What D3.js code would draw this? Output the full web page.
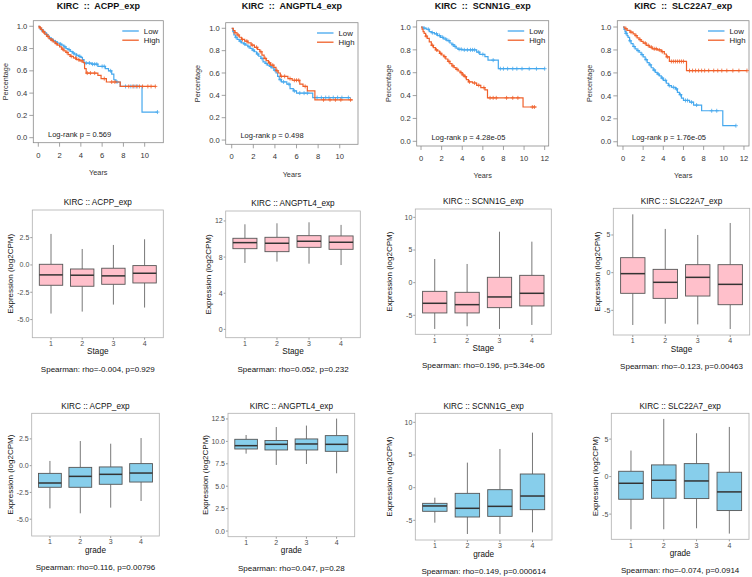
<!DOCTYPE html>
<html><head><meta charset="utf-8">
<script src="https://cdn.jsdelivr.net/npm/d3@7"></script>
<style>body{margin:0;background:#fff}svg{display:block}text{font-family:"Liberation Sans",Arial,Helvetica,sans-serif}</style>
</head><body><script>
// ---------------- DATA ----------------
const cohort = "KIRC";
const genes = ["ACPP_exp","ANGPTL4_exp","SCNN1G_exp","SLC22A7_exp"];
const logrankP = ["0.569","0.498","4.28e-05","1.76e-05"];
const kmLegend = ["Low","High"];

// Kaplan-Meier steps [time, survival], end time, censor times
const acppLow = [[0,1],[0.1,0.99],[0.2,0.98],[0.3,0.97],[0.45,0.955],[0.6,0.94],[0.75,0.925],[0.9,0.91],[1.05,0.895],[1.2,0.885],[1.4,0.87],[1.6,0.86],[1.8,0.85],[2.0,0.84],[2.2,0.83],[2.4,0.815],[2.6,0.8],[2.8,0.79],[3.0,0.775],[3.2,0.76],[3.4,0.75],[3.6,0.74],[3.8,0.73],[4.0,0.72],[4.15,0.7],[4.3,0.67],[5.0,0.66],[5.6,0.64],[6.3,0.62],[6.6,0.6],[6.9,0.57],[7.1,0.52],[7.3,0.5],[7.7,0.46],[9.75,0.23]];
const acppLowEnd = 11.2;
const acppLowCens = [0.3,0.8,1.2,1.6,2.1,2.5,2.9,3.3,3.6,3.9,4.5,4.8,5.1,5.3,5.5,6.0,6.2,6.8,7.4,8.2,8.7,9.0,9.3,11.2];
const acppHigh = [[0,1],[0.1,0.985],[0.25,0.97],[0.4,0.95],[0.6,0.93],[0.8,0.91],[1.0,0.89],[1.2,0.875],[1.4,0.86],[1.6,0.845],[1.8,0.83],[2.0,0.815],[2.2,0.795],[2.4,0.78],[2.6,0.765],[2.8,0.745],[3.0,0.73],[3.3,0.715],[3.6,0.7],[3.9,0.69],[4.2,0.675],[4.35,0.62],[4.5,0.58],[5.6,0.56],[5.9,0.53],[6.4,0.5],[7.7,0.46]];
const acppHighEnd = 11.0;
const acppHighCens = [0.2,0.5,0.9,1.3,1.7,2.3,2.7,3.1,3.5,3.8,4.1,4.6,4.9,5.3,6.2,6.9,7.2,8.5,8.9,9.2,9.5,9.8,10.3,10.6,11.0];

const angLow = [[0,1],[0.1,0.97],[0.2,0.94],[0.35,0.92],[0.5,0.9],[0.7,0.885],[0.9,0.87],[1.1,0.86],[1.3,0.85],[1.5,0.835],[1.7,0.82],[1.9,0.805],[2.1,0.79],[2.3,0.77],[2.5,0.75],[2.7,0.73],[2.9,0.7],[3.1,0.685],[3.3,0.67],[3.5,0.66],[3.7,0.645],[3.9,0.625],[4.1,0.6],[4.25,0.57],[4.4,0.54],[4.6,0.52],[5.1,0.5],[5.4,0.46],[5.7,0.44],[6.0,0.42],[7.5,0.38]];
const angLowEnd = 11.0;
const angLowCens = [0.4,0.8,1.2,1.6,2.0,2.4,2.8,3.2,3.6,4.0,4.5,4.8,5.3,5.8,6.3,6.7,7.0,7.9,8.3,8.7,9.0,9.4,9.8,10.2,10.8];
const angHigh = [[0,1],[0.15,0.98],[0.3,0.96],[0.5,0.94],[0.7,0.92],[0.9,0.9],[1.2,0.885],[1.5,0.87],[1.8,0.85],[2.1,0.83],[2.4,0.81],[2.6,0.79],[2.8,0.76],[3.0,0.73],[3.2,0.71],[3.4,0.69],[3.6,0.67],[3.9,0.65],[4.1,0.62],[4.3,0.6],[4.5,0.57],[5.2,0.55],[5.6,0.535],[6.3,0.5],[6.6,0.48],[7.0,0.44],[7.7,0.36]];
const angHighEnd = 11.2;
const angHighCens = [0.3,0.6,1.0,1.4,1.9,2.3,2.7,3.1,3.5,3.8,4.2,4.6,4.9,5.4,5.8,6.0,6.2,6.8,8.5,9.1,9.6,10.1,11.0];

const scnLow = [[0,1],[0.2,0.99],[0.5,0.98],[0.8,0.96],[1.0,0.95],[1.3,0.94],[1.6,0.925],[1.9,0.91],[2.2,0.895],[2.5,0.88],[2.8,0.86],[3.0,0.845],[3.2,0.83],[3.4,0.815],[3.6,0.805],[4.0,0.8],[5.4,0.78],[5.7,0.76],[6.2,0.74],[6.5,0.71],[7.5,0.635]];
const scnLowEnd = 12.0;
const scnLowCens = [0.3,0.7,1.1,1.5,1.8,2.1,2.4,2.7,3.1,3.3,3.7,3.9,4.2,4.5,4.8,5.0,5.2,5.6,6.0,7.0,7.7,8.0,8.4,8.9,9.3,9.8,10.5,11.2,12.0];
const scnHigh = [[0,1],[0.1,0.98],[0.2,0.96],[0.3,0.945],[0.45,0.92],[0.6,0.9],[0.8,0.87],[1.0,0.84],[1.2,0.82],[1.4,0.8],[1.6,0.79],[1.8,0.77],[2.0,0.755],[2.2,0.74],[2.4,0.72],[2.6,0.7],[2.8,0.68],[3.0,0.66],[3.2,0.645],[3.4,0.63],[3.6,0.615],[3.8,0.6],[4.0,0.58],[4.2,0.565],[4.4,0.54],[4.6,0.52],[5.0,0.51],[5.4,0.49],[5.8,0.47],[6.2,0.45],[6.45,0.38],[9.9,0.3]];
const scnHighEnd = 11.2;
const scnHighCens = [0.5,1.1,1.5,1.9,2.3,2.7,3.1,3.5,3.9,4.1,4.3,4.7,5.2,5.6,6.1,6.7,7.0,7.3,8.3,8.9,9.4,10.8,11.0];

const slcLow = [[0,1],[0.1,0.98],[0.2,0.96],[0.3,0.945],[0.4,0.925],[0.5,0.91],[0.65,0.88],[0.8,0.855],[1.0,0.83],[1.2,0.81],[1.4,0.795],[1.6,0.78],[1.8,0.76],[2.0,0.74],[2.2,0.715],[2.4,0.69],[2.6,0.67],[2.8,0.645],[3.0,0.625],[3.2,0.605],[3.4,0.59],[3.6,0.575],[3.8,0.555],[4.0,0.535],[4.3,0.51],[4.5,0.49],[4.8,0.475],[5.2,0.46],[5.4,0.43],[5.6,0.41],[5.8,0.38],[6.0,0.36],[6.6,0.345],[7.0,0.32],[7.8,0.27],[9.9,0.14]];
const slcLowEnd = 11.2;
const slcLowCens = [0.3,0.7,1.1,1.5,1.9,2.3,2.7,3.1,3.5,3.9,4.2,4.6,5.0,5.3,5.7,6.2,6.4,6.8,7.3,8.8,9.3,11.2];
const slcHigh = [[0,1],[0.2,0.985],[0.4,0.97],[0.7,0.955],[1.0,0.94],[1.2,0.925],[1.4,0.905],[1.6,0.89],[1.8,0.875],[2.0,0.86],[2.3,0.84],[2.6,0.825],[2.9,0.81],[3.4,0.8],[3.8,0.785],[4.1,0.765],[4.3,0.74],[4.6,0.7],[6.3,0.62]];
const slcHighEnd = 12.3;
const slcHighCens = [0.3,0.8,1.3,1.7,2.2,2.5,2.8,3.1,3.3,3.6,3.9,4.4,4.8,5.0,5.2,5.4,5.6,5.8,6.0,6.6,6.9,7.2,7.5,7.8,8.1,8.5,9.0,9.4,9.8,10.3,10.9,11.5,12.3];

const kmXTicks = [[0,2,4,6,8,10],[0,2,4,6,8,10],[0,2,4,6,8,10,12],[0,2,4,6,8,10,12]];
const kmYTicks = [0,0.2,0.4,0.6,0.8,1.0];

// Boxplot stats: [lower whisker, Q1, median, Q3, upper whisker]
const groups = ["1","2","3","4"];
const acppStage   = [[-4.45,-1.86,-0.91,0.06,2.84],[-4.27,-1.95,-0.94,-0.37,1.46],[-3.63,-1.77,-1.0,-0.3,1.83],[-3.9,-1.65,-0.76,-0.06,2.35]];
const angStage    = [[7.35,8.93,9.6,10.08,11.63],[7.5,8.6,9.53,10.19,11.74],[7.27,9.08,9.75,10.37,11.85],[7.12,8.86,9.64,10.34,11.56]];
const scnStage    = [[-7.09,-4.64,-3.16,-1.33,3.62],[-6.68,-4.64,-3.37,-1.48,2.86],[-7.09,-3.83,-2.19,0.82,7.8],[-6.48,-3.57,-1.63,1.12,6.28]];
const slcStage    = [[-6.94,-2.74,-0.13,1.99,7.74],[-6.77,-3.41,-1.28,0.44,5.8],[-6.86,-3.1,-0.62,1.06,5.0],[-7.48,-4.25,-1.55,1.06,6.59]];
const acppGrade   = [[-3.99,-2.02,-1.62,-0.72,0.44],[-4.45,-2.02,-1.0,-0.16,2.3],[-3.92,-1.74,-0.81,-0.12,2.05],[-3.3,-1.53,-0.69,0.19,2.58]];
const angGrade    = [[8.63,9.15,9.52,10.23,10.71],[7.37,9.04,9.67,10.1,11.6],[7.48,9.04,9.71,10.27,11.76],[6.44,8.89,9.67,10.64,12.54]];
const scnGrade    = [[-5.36,-3.62,-2.8,-2.4,-1.53],[-7.09,-4.49,-3.16,-0.87,3.83],[-7.09,-4.39,-2.86,-0.31,5.92],[-6.84,-3.37,-1.28,2.09,8.42]];
const slcGrade    = [[-7.02,-3.02,-0.89,0.71,3.47],[-7.02,-2.89,-0.49,1.56,7.69],[-6.89,-2.93,-0.58,1.73,5.78],[-7.6,-4.53,-2.04,0.58,6.62]];
const stageSpearman = ["rho=-0.004, p=0.929","rho=0.052, p=0.232","rho=0.196, p=5.34e-06","rho=-0.123, p=0.00463"];
const gradeSpearman = ["rho=0.116, p=0.00796","rho=0.047, p=0.28","rho=0.149, p=0.000614","rho=-0.074, p=0.0914"];
const stageYTicks = [[-5,-2.5,0,2.5],[0,4,8,12],[-5,0,5,10],[-5,0,5]];
const gradeYTicks = [[-5,-2.5,0,2.5],[0,2.5,5,7.5,10,12.5],[-5,0,5,10],[-5,0,5]];
const stageYDomain = [[-6.66,5.03],[-0.92,13.1],[-7.91,11.28],[-8.27,8.54]];
const gradeYDomain = [[-6.57,4.89],[-0.63,13.13],[-8.01,11.38],[-8.36,8.44]];

// ---------------- LAYOUT ----------------
const kmLayout = [
  {l:33.3,r:163.3,t:20.7,b:142.7,xd:[-0.47,11.75],yd:[-0.045,1.05]},
  {l:225.7,r:358,t:22.7,b:144.3,xd:[-0.556,11.69],yd:[-0.038,1.05]},
  {l:416.7,r:548.7,t:20.7,b:146,xd:[-0.42,12.39],yd:[-0.041,1.055]},
  {l:617.3,r:749,t:20.7,b:146,xd:[-0.565,12.5],yd:[-0.037,1.055]}
];
const stageLayout = [
  {l:32.3,r:163.3,t:210,b:337.7,ylab:-22.3},
  {l:225.7,r:360.3,t:211,b:337.7,ylab:-17},
  {l:415.3,r:551.3,t:209,b:334.3,ylab:-26},
  {l:613.3,r:749.7,t:208.3,b:335,ylab:-16}
];
const gradeLayout = [
  {l:31.7,r:159.3,t:413.3,b:536,ylab:-21.7},
  {l:228,r:354.7,t:413.3,b:536.7,ylab:-22.7},
  {l:415.3,r:552,t:413.3,b:540,ylab:-26},
  {l:611.3,r:749,t:413.3,b:539.3,ylab:-15.6}
];
const colLow = "#45a8ee", colHigh = "#f0602a";

const svg = d3.select("body").append("svg").attr("width",752).attr("height",577);

function txt(g,x,y,s,size,opts={}){
  const t=g.append("text").attr("x",x).attr("y",y).attr("dy","0.35em").attr("font-size",size)
    .attr("text-anchor",opts.anchor||"middle").attr("fill",opts.fill||"#1a1a1a").text(s);
  if(opts.bold) t.attr("font-weight","bold");
  if(opts.rotate) t.attr("transform",`rotate(-90,${x},${y})`);
  return t;
}

function drawKM(i, curves){
  const L=kmLayout[i], g=svg.append("g");
  const x=d3.scaleLinear().domain(L.xd).range([L.l,L.r]);
  const y=d3.scaleLinear().domain(L.yd).range([L.b,L.t]);
  g.append("rect").attr("x",L.l).attr("y",L.t).attr("width",L.r-L.l).attr("height",L.b-L.t)
    .attr("fill","none").attr("stroke","#8a8a8a").attr("stroke-width",0.8);
  kmYTicks.forEach(v=>{
    g.append("line").attr("x1",L.l-4).attr("x2",L.l).attr("y1",y(v)).attr("y2",y(v)).attr("stroke","#8a8a8a").attr("stroke-width",0.8);
    txt(g,L.l-6,y(v),d3.format(".1f")(v),7.6,{anchor:"end",fill:"#333"});
  });
  kmXTicks[i].forEach(v=>{
    g.append("line").attr("x1",x(v)).attr("x2",x(v)).attr("y1",L.b).attr("y2",L.b+4).attr("stroke","#8a8a8a").attr("stroke-width",0.8);
    txt(g,x(v),L.b+12.5,String(v),7.6,{fill:"#333"});
  });
  const line=d3.line().x(d=>x(d[0])).y(d=>y(d[1])).curve(d3.curveStepAfter);
  curves.forEach(c=>{
    const pts=c.steps.concat([[c.end,c.steps[c.steps.length-1][1]]]);
    g.append("path").attr("d",line(pts)).attr("fill","none").attr("stroke",c.color).attr("stroke-width",1.2);
    const surv=t=>{let s=1;c.steps.forEach(p=>{if(p[0]<=t)s=p[1];});return s;};
    c.cens.forEach(t=>{
      const cx=x(t),cy=y(surv(t));
      g.append("path").attr("d",`M${cx-2},${cy}H${cx+2}M${cx},${cy-2}V${cy+2}`).attr("stroke",c.color).attr("stroke-width",0.8);
    });
  });
  txt(g,(L.l+L.r)/2,5.7,`${cohort}  ::  ${genes[i]}`,9,{bold:true,fill:"#111"}).attr("xml:space","preserve").style("white-space","pre");
  txt(g,(L.l+L.r)/2,L.b+29.7,"Years",7.3,{fill:"#333"});
  txt(g,L.l-28.3,(L.t+L.b)/2,"Percentage",7.3,{rotate:true,fill:"#333"});
  [colLow,colHigh].forEach((c,k)=>{
    const yy=L.t+10.3+k*9.2;
    g.append("line").attr("x1",L.r-41).attr("x2",L.r-24.5).attr("y1",yy).attr("y2",yy).attr("stroke",c).attr("stroke-width",1.3);
    txt(g,L.r-19.5,yy,kmLegend[k],7.8,{anchor:"start",fill:"#222"});
  });
  txt(g,L.l+14.7,L.b-8.8,`Log-rank p = ${logrankP[i]}`,7.5,{anchor:"start",fill:"#222"});
}

drawKM(0,[{steps:acppLow,end:acppLowEnd,cens:acppLowCens,color:colLow},{steps:acppHigh,end:acppHighEnd,cens:acppHighCens,color:colHigh}]);
drawKM(1,[{steps:angLow,end:angLowEnd,cens:angLowCens,color:colLow},{steps:angHigh,end:angHighEnd,cens:angHighCens,color:colHigh}]);
drawKM(2,[{steps:scnLow,end:scnLowEnd,cens:scnLowCens,color:colLow},{steps:scnHigh,end:scnHighEnd,cens:scnHighCens,color:colHigh}]);
drawKM(3,[{steps:slcLow,end:slcLowEnd,cens:slcLowCens,color:colLow},{steps:slcHigh,end:slcHighEnd,cens:slcHighCens,color:colHigh}]);

function drawBox(L, i, stats, yd, ticks, xlab, fill, spear){
  const g=svg.append("g");
  const x=d3.scaleLinear().domain([0.4,4.6]).range([L.l,L.r]);
  const y=d3.scaleLinear().domain(yd).range([L.b,L.t]);
  const dec = ticks.some(v=>!Number.isInteger(v));
  const fmt = dec ? (v=>v.toFixed(1)) : (v=>String(v));
  ticks.forEach(v=>{
    g.append("line").attr("x1",L.l-2).attr("x2",L.l).attr("y1",y(v)).attr("y2",y(v)).attr("stroke","#555").attr("stroke-width",0.6);
    txt(g,L.l-3,y(v),fmt(v),7,{anchor:"end",fill:"#4d4d4d"});
  });
  stats.forEach((s,k)=>{
    const c=x(k+1), hw=x(0.375)-x(0);
    g.append("line").attr("x1",c).attr("x2",c).attr("y1",y(s[3])).attr("y2",y(s[4])).attr("stroke","#555").attr("stroke-width",0.8);
    g.append("line").attr("x1",c).attr("x2",c).attr("y1",y(s[1])).attr("y2",y(s[0])).attr("stroke","#555").attr("stroke-width",0.8);
    g.append("rect").attr("x",c-hw).attr("width",2*hw).attr("y",y(s[3])).attr("height",y(s[1])-y(s[3]))
      .attr("fill",fill).attr("stroke","#555").attr("stroke-width",0.9);
    g.append("line").attr("x1",c-hw).attr("x2",c+hw).attr("y1",y(s[2])).attr("y2",y(s[2])).attr("stroke","#333").attr("stroke-width",1.5);
    g.append("line").attr("x1",c).attr("x2",c).attr("y1",L.b).attr("y2",L.b+2).attr("stroke","#555").attr("stroke-width",0.6);
    txt(g,c,L.b+6,groups[k],7,{fill:"#4d4d4d"});
  });
  g.append("rect").attr("x",L.l).attr("y",L.t).attr("width",L.r-L.l).attr("height",L.b-L.t)
    .attr("fill","none").attr("stroke","#b0b0b0").attr("stroke-width",0.8);
  const cx=(L.l+L.r)/2;
  txt(g,cx,L.t-7.5,`${cohort} :: ${genes[i]}`,8.2,{fill:"#111"});
  txt(g,cx,L.b+13.8,xlab,8.2,{fill:"#111"});
  txt(g,L.l+L.ylab,(L.t+L.b)/2,"Expression (log2CPM)",8,{rotate:true,fill:"#111"});
  txt(g,cx,L.b+31,`Spearman: ${spear}`,8,{fill:"#111"});
}
const stageStats=[acppStage,angStage,scnStage,slcStage];
const gradeStats=[acppGrade,angGrade,scnGrade,slcGrade];
for(let i=0;i<4;i++){
  drawBox(stageLayout[i],i,stageStats[i],stageYDomain[i],stageYTicks[i],"Stage","#ffc0cb",stageSpearman[i]);
  drawBox(gradeLayout[i],i,gradeStats[i],gradeYDomain[i],gradeYTicks[i],"grade","#87ceeb",gradeSpearman[i]);
}
</script></body></html>
